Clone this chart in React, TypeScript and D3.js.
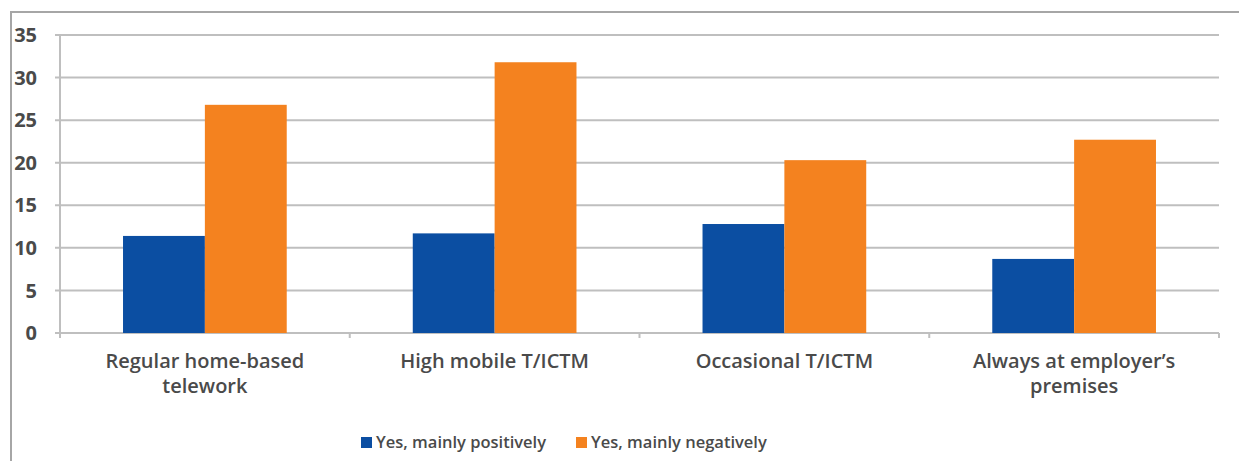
import React, { useEffect, useRef } from 'react';
import * as d3 from 'd3';

const categories = [
  ['Regular home-based', 'telework'],
  ['High mobile T/ICTM'],
  ['Occasional T/ICTM'],
  ["Always at employer\u2019s", 'premises'],
];
const seriesNames = ['Yes, mainly positively', 'Yes, mainly negatively'];
const positively = [11.4, 11.7, 12.8, 8.7];
const negatively = [26.8, 31.8, 20.3, 22.7];
const yTicks = [0, 5, 10, 15, 20, 25, 30, 35];

const colors = ['#0b4ea2', '#f4821f'];
const W = 1239;
const H = 461;

const App: React.FC = () => {
  const svgRef = useRef<SVGSVGElement>(null);

  useEffect(() => {
    if (!svgRef.current) return;
    const svg = d3.select(svgRef.current);
    svg.selectAll('*').remove();

    const margin = { top: 35, right: 20, bottom: 128, left: 60 };
    const chartW = W - margin.left - margin.right;
    const chartH = H - margin.top - margin.bottom;

    // outer frame (only left + top visible in the reference)
    svg.append('path')
      .attr('d', `M11,${H} V12 H${W}`)
      .attr('fill', 'none')
      .attr('stroke', '#a6a6a6')
      .attr('stroke-width', 2);

    const g = svg.append('g').attr('transform', `translate(${margin.left},${margin.top})`);

    const x0 = d3.scaleBand<number>()
      .domain(d3.range(categories.length))
      .range([0, chartW])
      .paddingInner(0)
      .paddingOuter(0);

    const x1 = d3.scaleBand<number>()
      .domain([0, 1])
      .range([0, x0.bandwidth()])
      .paddingOuter(0.77)
      .paddingInner(0);

    const y = d3.scaleLinear().domain([0, 35]).range([chartH, 0]);

    // gridlines
    g.append('g')
      .selectAll('line')
      .data(yTicks)
      .join('line')
      .attr('x1', -5)
      .attr('x2', chartW)
      .attr('y1', d => y(d))
      .attr('y2', d => y(d))
      .attr('stroke', '#bfbfbf')
      .attr('stroke-width', 2);

    // y axis line
    g.append('line')
      .attr('x1', 0).attr('x2', 0)
      .attr('y1', 0).attr('y2', chartH + 5)
      .attr('stroke', '#bfbfbf')
      .attr('stroke-width', 2);

    // x tick marks at category boundaries
    g.append('g')
      .selectAll('line')
      .data(d3.range(categories.length + 1))
      .join('line')
      .attr('x1', i => (i < categories.length ? x0(i)! : chartW))
      .attr('x2', i => (i < categories.length ? x0(i)! : chartW))
      .attr('y1', chartH)
      .attr('y2', chartH + 5)
      .attr('stroke', '#bfbfbf')
      .attr('stroke-width', 2);

    // y tick labels
    g.append('g')
      .selectAll('text')
      .data(yTicks)
      .join('text')
      .attr('x', -23)
      .attr('y', d => y(d))
      .attr('dy', '0.36em')
      .attr('text-anchor', 'end')
      .attr('font-family', '"Open Sans", sans-serif')
      .attr('font-weight', 700)
      .attr('font-size', '20px')
      .attr('fill', '#4a4a4a')
      .text(d => d);

    // bars
    const series = [positively, negatively];
    series.forEach((vals, s) => {
      g.append('g')
        .selectAll('rect')
        .data(vals)
        .join('rect')
        .attr('x', (_, i) => x0(i)! + x1(s)!)
        .attr('width', x1.bandwidth())
        .attr('y', d => y(d))
        .attr('height', d => chartH - y(d))
        .attr('fill', colors[s]);
    });

    // category labels
    const lab = g.append('g');
    categories.forEach((lines, i) => {
      const t = lab.append('text')
        .attr('text-anchor', 'middle')
        .attr('font-family', '"Open Sans", sans-serif')
        .attr('font-weight', 600)
        .attr('font-size', '20px')
        .attr('fill', '#4a4a4a');
      lines.forEach((ln, j) => {
        t.append('tspan')
          .attr('x', x0(i)! + x0.bandwidth() / 2)
          .attr('y', chartH + 35 + j * 25)
          .text(ln);
      });
    });

    // legend
    const legendItems = [
      { name: seriesNames[0], x: 361 },
      { name: seriesNames[1], x: 576 },
    ];
    const lg = svg.append('g');
    legendItems.forEach((it, i) => {
      lg.append('rect')
        .attr('x', it.x)
        .attr('y', 437)
        .attr('width', 11)
        .attr('height', 11)
        .attr('fill', colors[i]);
      lg.append('text')
        .attr('x', it.x + 15)
        .attr('y', 448)
        .attr('font-family', '"Open Sans", sans-serif')
        .attr('font-weight', 600)
        .attr('font-size', '16.5px')
        .attr('fill', '#4a4a4a')
        .text(it.name);
    });
  }, []);

  return (
    <div style={{ position: 'absolute', left: 0, top: 0, width: W, height: H, background: '#fff' }}>
      <svg ref={svgRef} width={W} height={H} style={{ display: 'block' }} />
    </div>
  );
};

export default App;
